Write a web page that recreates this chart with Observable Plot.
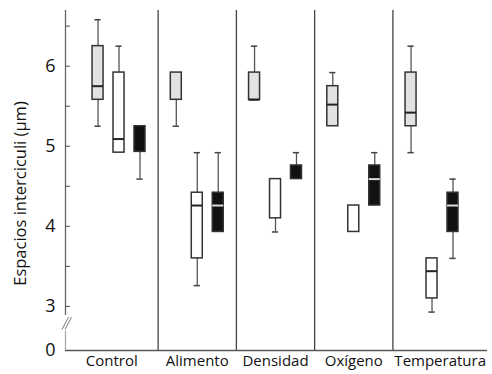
<!DOCTYPE html>
<html>
<head>
<meta charset="utf-8">
<script src="https://cdn.jsdelivr.net/npm/d3@7"></script>
<script src="https://cdn.jsdelivr.net/npm/@observablehq/plot@0.6"></script>
<style>
  html, body { margin: 0; padding: 0; background: #fff; }
  #chart svg { display: block; }
</style>
</head>
<body>
<div id="chart"></div>
<script>
// ---- Data ----
const groups = ["Control", "Alimento", "Densidad", "Oxígeno", "Temperatura"];
const seriesNames = ["gris", "blanco", "negro"];

// gray boxes
const grayMin = [5.25, 5.25, 5.58, 5.25, 4.92];
const grayQ1  = [5.58, 5.58, 5.58, 5.25, 5.25];
const grayMed = [5.75, null, 5.58, 5.52, 5.42];
const grayQ3  = [6.25, 5.92, 5.92, 5.75, 5.92];
const grayMax = [6.58, 5.92, 6.25, 5.92, 6.25];
// white boxes
const whiteMin = [4.92, 3.26, 3.93, 3.93, 2.93];
const whiteQ1  = [4.92, 3.60, 4.10, 3.93, 3.10];
const whiteMed = [5.09, 4.26, null, null, 3.44];
const whiteQ3  = [5.92, 4.42, 4.59, 4.26, 3.60];
const whiteMax = [6.25, 4.92, 4.59, 4.26, 3.60];
// black boxes
const blackMin = [4.59, 3.93, 4.59, 4.26, 3.60];
const blackQ1  = [4.93, 3.93, 4.59, 4.26, 3.93];
const blackMed = [null, 4.26, null, 4.59, 4.26];
const blackQ3  = [5.25, 4.42, 4.76, 4.76, 4.42];
const blackMax = [5.25, 4.92, 4.92, 4.92, 4.59];

const yTickValues = [3, 4, 5, 6];
const yMinorTicks = [3, 3.5, 4, 4.5, 5, 5.5, 6, 6.5];
const yLabel = "Espacios interciculi (μm)";

// ---- Layout constants ----
const XMIN = -0.684, XMAX = 4.709;   // x extent (group index units)
const YMIN = 2.45, YMAX = 6.695;     // y extent; YMIN stands for the broken "0"
const PX = 1 / 78.25;                // x units per pixel
const OFF = 0.268, HALF = 0.0703, CAP = 0.04;

const fills = { gris: "#e2e2e2", blanco: "#ffffff", negro: "#111111" };
const stats = {
  gris:   [grayMin, grayQ1, grayMed, grayQ3, grayMax],
  blanco: [whiteMin, whiteQ1, whiteMed, whiteQ3, whiteMax],
  negro:  [blackMin, blackQ1, blackMed, blackQ3, blackMax]
};
const rows = [];
seriesNames.forEach((s, k) => {
  const [mn, q1, md, q3, mx] = stats[s];
  groups.forEach((g, i) => {
    rows.push({ group: g, series: s, x: i + (k - 1) * OFF,
      min: mn[i], q1: q1[i], med: md[i], q3: q3[i], max: mx[i] });
  });
});

const separators = d3.range(1, groups.length).map(i => i - 0.5);
const labelX = groups.map((g, i) => {
  const lo = i === 0 ? XMIN : i - 0.5;
  const hi = i === groups.length - 1 ? XMAX : i + 0.5;
  return (lo + hi) / 2;
});

const BREAK_TOP = 2.888, BREAK_BOT = 2.69;
const titleRow = [{ text: yLabel, x: XMIN, y: (YMIN + YMAX) / 2 }];

const chart = Plot.plot({
  width: 492,
  height: 374,
  marginTop: 10,
  marginBottom: 24,
  marginLeft: 65,
  marginRight: 5,
  x: { domain: [XMIN, XMAX], axis: null },
  y: { domain: [YMIN, YMAX], axis: null },
  style: { fontFamily: "'Open Sans', sans-serif", background: "#fff", color: "#111" },
  marks: [
    // group separators
    Plot.ruleX(separators, { stroke: "#444", strokeWidth: 1.3 }),
    // x axis line
    Plot.ruleY([YMIN], { stroke: "#555", strokeWidth: 1.3 }),
    // y axis line with break
    Plot.ruleX([XMIN], { y1: BREAK_TOP, y2: YMAX, stroke: "#666", strokeWidth: 1.3 }),
    Plot.ruleX([XMIN], { y1: YMIN, y2: BREAK_BOT, stroke: "#aaa", strokeWidth: 1.3 }),
    Plot.link([0], { x1: XMIN - 3.5 * PX, x2: XMIN + 3 * PX, y1: 2.713, y2: 2.867, stroke: "#777", strokeWidth: 1 }),
    Plot.link([0], { x1: XMIN - 3.5 * PX, x2: XMIN + 3 * PX, y1: 2.713, y2: 2.867, stroke: "#777", strokeWidth: 1, dx: 3 }),
    // inward y ticks
    Plot.ruleY(yMinorTicks, { x1: XMIN, x2: XMIN + 5 * PX, stroke: "#666", strokeWidth: 1.2 }),
    // y tick labels
    Plot.text([YMIN, ...yTickValues], {
      y: d => d, frameAnchor: "left", dx: -10, textAnchor: "end",
      text: d => d === YMIN ? "0" : String(d), fontSize: 18, fill: "#111"
    }),
    // y label
    Plot.text(titleRow, {
      x: "x", y: "y", text: "text", rotate: -90, dx: -45, dy: 13,
      textAnchor: "middle", fontSize: 16.5, fill: "#111"
    }),
    // group labels
    Plot.text(groups, {
      x: (d, i) => labelX[i], frameAnchor: "bottom", dy: 15, fontSize: 15, fill: "#111"
    }),
    // whiskers
    Plot.ruleX(rows, { x: "x", y1: "min", y2: "max", stroke: "#555", strokeWidth: 1.3 }),
    Plot.ruleY(rows.filter(d => d.max > d.q3), {
      y: "max", x1: d => d.x - CAP, x2: d => d.x + CAP, stroke: "#444", strokeWidth: 1.5
    }),
    Plot.ruleY(rows.filter(d => d.min < d.q1), {
      y: "min", x1: d => d.x - CAP, x2: d => d.x + CAP, stroke: "#444", strokeWidth: 1.5
    }),
    // boxes
    Plot.rect(rows, {
      x1: d => d.x - HALF, x2: d => d.x + HALF, y1: "q1", y2: "q3",
      fill: d => fills[d.series], stroke: "#333", strokeWidth: 1.5
    }),
    // medians
    Plot.ruleY(rows.filter(d => d.med != null), {
      y: "med", x1: d => d.x - HALF, x2: d => d.x + HALF,
      stroke: d => d.series === "negro" ? "#ddd" : "#222", strokeWidth: 2
    })
  ]
});
document.getElementById("chart").appendChild(chart);
</script>
</body>
</html>
